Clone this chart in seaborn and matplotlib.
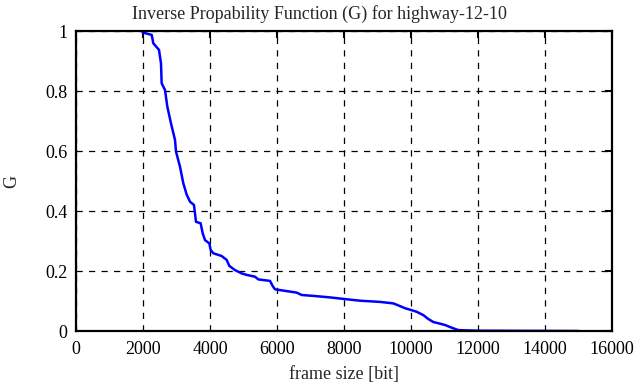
import matplotlib
matplotlib.use("Agg")
import matplotlib.pyplot as plt
import seaborn as sns
import pandas as pd

frame_size = [1990, 2260, 2308, 2478, 2537, 2557, 2657, 2726, 2836, 2955, 2985, 3104, 3204,
              3303, 3403, 3522, 3582, 3721, 3781, 3851, 3980, 4020, 4099, 4348, 4497, 4577,
              4746, 4945, 5095, 5343, 5443, 5791, 5871, 5940, 6289, 6587, 6737, 7085, 7582,
              7980, 8478, 9075, 9473, 9672, 9821, 9970, 10170, 10367, 10517, 10667, 10845,
              11015, 11214, 11413, 12000, 15000]
g_values = [0.995, 0.987, 0.959, 0.937, 0.892, 0.826, 0.803, 0.748, 0.692, 0.637, 0.598, 0.548, 0.492,
            0.455, 0.431, 0.420, 0.364, 0.359, 0.326, 0.303, 0.292, 0.270, 0.259, 0.250, 0.237, 0.217,
            0.203, 0.192, 0.187, 0.181, 0.172, 0.167, 0.150, 0.139, 0.133, 0.128, 0.120, 0.117, 0.112,
            0.107, 0.101, 0.097, 0.092, 0.083, 0.076, 0.071, 0.064, 0.053, 0.040, 0.030, 0.025,
            0.020, 0.011, 0.003, 0.001, 0.0]

x_ticks = [0, 2000, 4000, 6000, 8000, 10000, 12000, 14000, 16000]
y_ticks = [0, 0.2, 0.4, 0.6, 0.8, 1]
y_tick_labels = ["0", "0.2", "0.4", "0.6", "0.8", "1"]

df = pd.DataFrame({"frame size [bit]": frame_size, "G": g_values})

sns.set_style("white")
plt.rcParams["font.family"] = ["Liberation Serif", "DejaVu Serif"]

fig = plt.figure(figsize=(6.39, 3.87), dpi=100)
ax = fig.add_axes([76/639, 1-331/387, (612-76)/639, 300/387])

sns.lineplot(data=df, x="frame size [bit]", y="G", ax=ax, color="#0000ff",
             linewidth=1.8, estimator=None, sort=False)

ax.set_xlim(0, 16000)
ax.set_ylim(0, 1)
ax.set_xticks(x_ticks)
ax.set_xticklabels([str(t) for t in x_ticks])
ax.set_yticks(y_ticks)
ax.set_yticklabels(y_tick_labels)
ax.grid(True, color="black", linestyle=(0, (5, 5)), linewidth=0.9)
ax.tick_params(direction="in", length=5, width=1.5, top=True, right=True,
               labelsize=13, colors="black")
ax.tick_params(axis="x", pad=7)
ax.tick_params(axis="y", pad=6)
for s in ax.spines.values():
    s.set_visible(True)
    s.set_color("black")
    s.set_linewidth(1.6)

ax.set_title("Inverse Propability Function (G) for highway-12-10", fontsize=13, pad=9,
             x=(319.5 - 76) / 536)
ax.set_xlabel("frame size [bit]", fontsize=13, labelpad=6)
ax.set_ylabel("G", fontsize=13, labelpad=18)

fig.savefig("out.png", dpi=100)
